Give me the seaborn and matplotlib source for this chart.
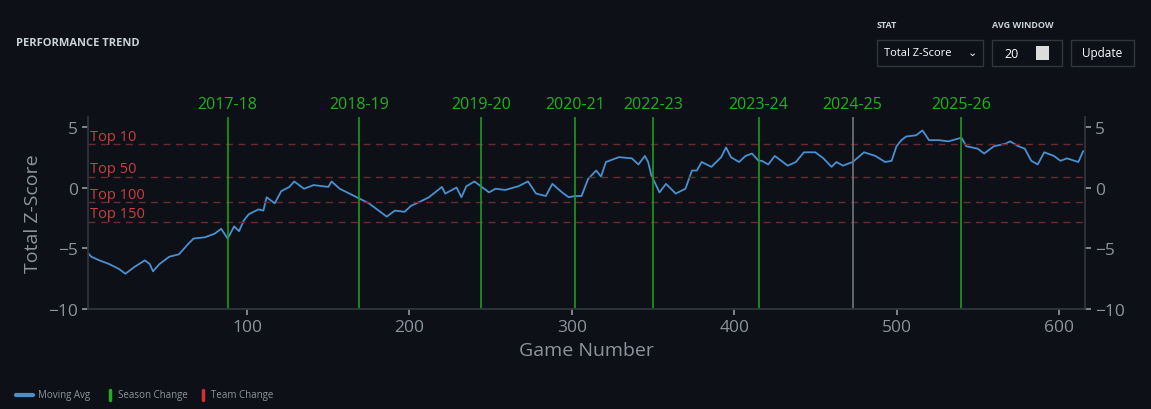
import numpy as np
import pandas as pd
import matplotlib
matplotlib.use("Agg")
import matplotlib.pyplot as plt
from matplotlib.patches import Rectangle
import seaborn as sns

# moving average
games = [2, 4, 9, 15, 21, 25, 31, 37, 40, 42, 46, 52, 58, 64, 67, 74, 80, 84, 88, 92, 95, 98,
         101, 107, 110, 112, 117, 121, 126, 129, 135, 141, 150, 152, 157, 163, 169, 175, 181, 186,
         191, 197, 201, 206, 212, 220, 222, 229, 232, 235, 240, 244, 249, 253, 259, 267, 273, 278,
         284, 288, 294, 298, 302, 306, 310, 315, 318, 321, 329, 337, 341, 345, 347, 349, 354, 358,
         364, 370, 374, 377, 380, 386, 392, 395, 398, 403, 407, 411, 415, 417, 421, 425, 429, 433,
         438, 443, 450, 455, 460, 463, 467, 473, 480, 487, 493, 497, 500, 503, 506, 512, 516, 520,
         526, 532, 540, 543, 550, 554, 560, 567, 570, 575, 579, 583, 587, 591, 597, 601, 605, 612, 615]
moving_avg = [-5.4, -5.7, -6.0, -6.3, -6.7, -7.1, -6.5, -6.0, -6.3, -6.9, -6.3, -5.7, -5.5, -4.6,
              -4.2, -4.1, -3.8, -3.4, -4.2, -3.2, -3.6, -2.7, -2.2, -1.8, -1.9, -0.8, -1.3, -0.3,
              0.05, 0.5, -0.1, 0.2, 0.05, 0.5, -0.1, -0.5, -0.9, -1.3, -1.9, -2.4, -1.9, -2.0, -1.5,
              -1.2, -0.8, 0.05, -0.5, 0.0, -0.8, 0.1, 0.5, 0.1, -0.4, -0.1, -0.2, 0.1, 0.5, -0.5,
              -0.7, 0.3, -0.4, -0.8, -0.7, -0.7, 0.7, 1.4, 0.9, 2.1, 2.5, 2.4, 1.9, 2.6, 2.1, 1.0,
              -0.4, 0.3, -0.5, -0.1, 1.4, 1.4, 2.1, 1.7, 2.5, 3.3, 2.5, 2.1, 2.6, 2.8, 2.2, 2.2, 1.9,
              2.6, 2.2, 1.8, 2.1, 2.9, 2.9, 2.4, 1.7, 2.1, 1.8, 2.1, 2.9, 2.6, 2.1, 2.2, 3.4, 3.9,
              4.2, 4.3, 4.7, 3.9, 3.9, 3.8, 4.1, 3.4, 3.2, 2.8, 3.4, 3.6, 3.8, 3.4, 3.2, 2.2, 1.9,
              2.9, 2.6, 2.2, 2.4, 2.1, 3.0]

season_games = [88, 169, 244, 302, 350, 415, 473, 540]
season_labels = ["2017-18", "2018-19", "2019-20", "2020-21", "2022-23", "2023-24", "2024-25", "2025-26"]
season_colors = ["#1f9a1f"] * 6 + ["#6e7681", "#1f9a1f"]

rank_labels = ["Top 10", "Top 50", "Top 100", "Top 150"]
rank_values = [3.6, 0.9, -1.2, -2.8]

bg = "#0d1117"
tick_c = "#8b949e"
line_c = "#4a8fd0"

sns.set_theme(style="dark")
plt.rcParams["font.family"] = ["Open Sans", "DejaVu Sans"]

fig = plt.figure(figsize=(11.51, 4.10), dpi=100, facecolor=bg)
ax = fig.add_axes([0.0765, 0.244, 0.866, 0.468], facecolor=bg)

df = pd.DataFrame({"game": games, "avg": moving_avg})
sns.lineplot(data=df, x="game", y="avg", ax=ax, color=line_c, linewidth=1.3)

for lbl, v in zip(rank_labels, rank_values):
    ax.axhline(v, color="#6b2a30", linestyle=(0, (5, 4)), linewidth=1)
    ax.text(3, v + 0.02, lbl, color="#c94040", fontsize=10.5, va="bottom", ha="left")

for g, lbl, c in zip(season_games, season_labels, season_colors):
    ax.axvline(g, color=c, linewidth=1.2)
    ax.text(g, 6.2, lbl, color="#22b022", fontsize=11.5, ha="center", va="bottom")

ax.set_xlim(2, 616)
ax.set_ylim(-10, 5.8)
ax.set_yticks([-10, -5, 0, 5])
ax.set_xticks([100, 200, 300, 400, 500, 600])
ax.set_xlabel("Game Number", color=tick_c, fontsize=14)
ax.set_ylabel("Total Z-Score", color=tick_c, fontsize=14)
ax.tick_params(colors=tick_c, labelsize=12.5, length=4, left=True, bottom=True)
ax.grid(False)
for side in ["top", "right"]:
    ax.spines[side].set_visible(False)
for side in ["left", "bottom"]:
    ax.spines[side].set_color("#30363d")

ax2 = ax.twinx()
ax2.set_ylim(ax.get_ylim())
ax2.set_yticks([-10, -5, 0, 5])
ax2.tick_params(colors=tick_c, labelsize=12.5, length=4, right=True)
ax2.grid(False)
for side in ["top", "left", "bottom"]:
    ax2.spines[side].set_visible(False)
ax2.spines["right"].set_color("#30363d")

# header and controls
fig.text(16 / 1151, 1 - 44 / 410, "PERFORMANCE TREND", color="#c9d1d9", fontsize=8,
         fontweight="bold", va="center")
fig.text(877 / 1151, 1 - 26 / 410, "STAT", color="#c9d1d9", fontsize=6.5, fontweight="bold", va="center")
fig.text(992 / 1151, 1 - 26 / 410, "AVG WINDOW", color="#c9d1d9", fontsize=6.5, fontweight="bold", va="center")


def box(x0, y0, w, h):
    fig.patches.append(Rectangle((x0 / 1151, 1 - (y0 + h) / 410), w / 1151, h / 410,
                                 transform=fig.transFigure, facecolor=bg, edgecolor="#30363d", lw=1))


box(877, 41, 106, 26)
box(992, 41, 70, 26)
box(1071, 41, 63, 26)
fig.text(884 / 1151, 1 - 54 / 410, "Total Z-Score", color="white", fontsize=8, va="center")
fig.text(972 / 1151, 1 - 54 / 410, "\u2304", color="white", fontsize=8, va="center", ha="center")
fig.text(1004 / 1151, 1 - 54 / 410, "20", color="white", fontsize=9, va="center")
fig.patches.append(Rectangle((1036 / 1151, 1 - 61 / 410), 13 / 1151, 14 / 410,
                             transform=fig.transFigure, facecolor="#dcdcdc", edgecolor="none"))
fig.text(1102 / 1151, 1 - 54 / 410, "Update", color="white", fontsize=8.5, va="center", ha="center")

# legend
ly = 1 - 396 / 410
fig.lines.append(plt.Line2D([16 / 1151, 33 / 1151], [ly, ly], transform=fig.transFigure, color=line_c, lw=3))
fig.text(38 / 1151, ly, "Moving Avg", color=tick_c, fontsize=7, va="center")
fig.lines.append(plt.Line2D([110 / 1151, 110 / 1151], [ly - 0.012, ly + 0.012], transform=fig.transFigure,
                            color="#22b022", lw=2.5))
fig.text(118 / 1151, ly, "Season Change", color=tick_c, fontsize=7, va="center")
fig.lines.append(plt.Line2D([203 / 1151, 203 / 1151], [ly - 0.012, ly + 0.012], transform=fig.transFigure,
                            color="#d03030", lw=2.5))
fig.text(211 / 1151, ly, "Team Change", color=tick_c, fontsize=7, va="center")

fig.savefig("out.png", dpi=100, facecolor=bg)
